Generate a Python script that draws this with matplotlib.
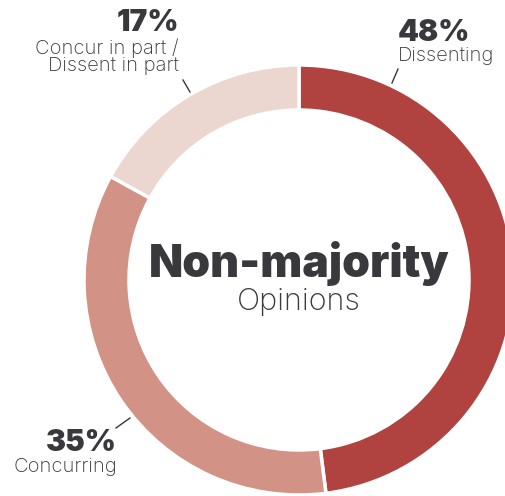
import matplotlib.pyplot as plt

# shares of non-majority opinions
labels = ["Dissenting", "Concurring", "Concur in part /\nDissent in part"]
shares = [48, 35, 17]
colors = ["#b04340", "#d29386", "#ecd7d0"]

txt = "#38383d"
plt.rcParams['font.family'] = ['Inter', 'DejaVu Sans']

fig = plt.figure(figsize=(5.06, 4.96), dpi=100)
ax = fig.add_axes([0, 0, 1, 1])

H = 496
cx, cy, R = 299, H - 280, 215
ax.pie(shares, colors=colors, startangle=90, counterclock=False,
       radius=R, center=(cx, cy),
       wedgeprops=dict(width=45, edgecolor="white", linewidth=2.5))
ax.set_xlim(0, 506)
ax.set_ylim(0, H)
ax.set_aspect("equal")
ax.axis("off")

# center label
ax.text(cx, H - 263, "Non-majority", ha="center", va="center",
        fontsize=32, fontweight="black", color=txt)
ax.text(cx, H - 302, "Opinions", ha="center", va="center",
        fontsize=22, fontweight="light", color=txt)

# Dissenting
ax.text(398, H - 33, f"{shares[0]}%", ha="left", va="center",
        fontsize=21.5, fontweight="black", color=txt)
ax.text(398, H - 56, labels[0], ha="left", va="center",
        fontsize=14.5, fontweight="light", color=txt)
ax.plot([398, 392], [H - 69, H - 83], color=txt, lw=1)

# Concur in part
ax.text(179, H - 23, f"{shares[2]}%", ha="right", va="center",
        fontsize=21.5, fontweight="black", color=txt)
ax.text(179, H - 57, labels[2], ha="right", va="center",
        fontsize=14.5, fontweight="light", color=txt, linespacing=0.95)
ax.plot([183, 190], [H - 80, H - 92], color=txt, lw=1)

# Concurring
ax.text(117, H - 443, f"{shares[1]}%", ha="right", va="center",
        fontsize=21.5, fontweight="black", color=txt)
ax.text(117, H - 467, labels[1], ha="right", va="center",
        fontsize=14.5, fontweight="light", color=txt)
ax.plot([116, 130], [H - 428, H - 418], color=txt, lw=1)

fig.savefig("out.png", dpi=100)
